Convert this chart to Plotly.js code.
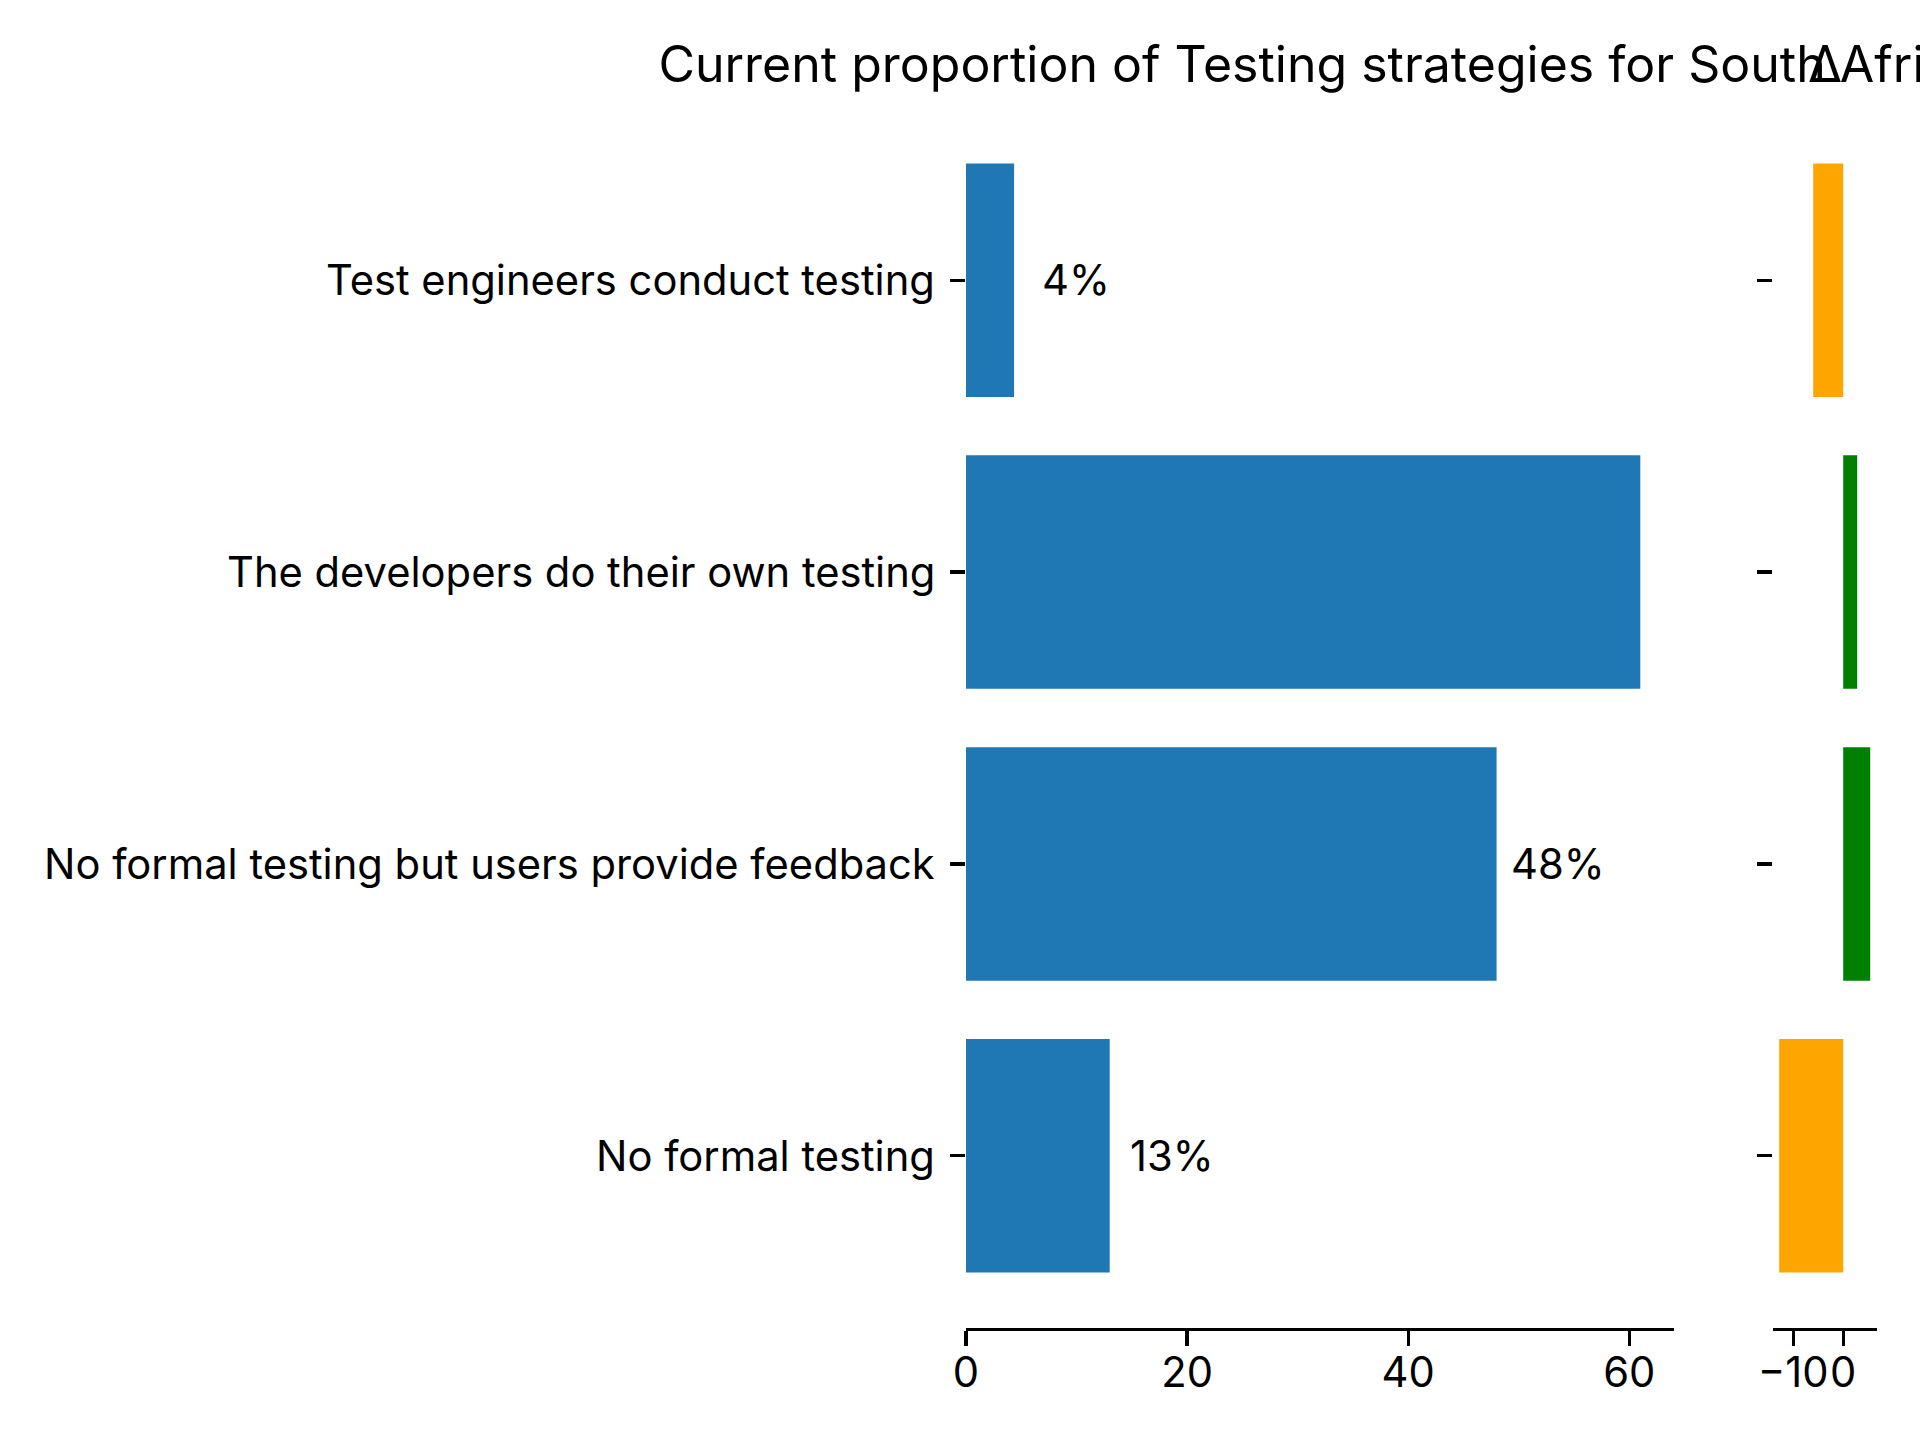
<!DOCTYPE html>
<html>
<head>
<meta charset="utf-8">
<script src="https://cdn.plot.ly/plotly-3.0.1.min.js"></script>
<style>html,body{margin:0;padding:0;background:#fff;} #chart{width:1920px;height:1440px;}</style>
</head>
<body>
<div id="chart"></div>
<script>
// Data (top to bottom as drawn)
const categories = [
  "Test engineers conduct testing",
  "The developers do their own testing",
  "No formal testing but users provide feedback",
  "No formal testing"
];
const currentShare = [4.35, 61, 48, 13];      // current proportion (%)
const deltaShare = [-6, 2.8, 5.4, -12.8];      // change (percentage points)
const xTickVals = [0, 20, 40, 60];
const x2TickVals = [-10, 0];
const x2TickText = ["\u221210", "0"];
const titleText = "Current proportion of Testing strategies for South Africa";
const deltaTitle = "\u0394";

const FONT = "Inter, 'DejaVu Sans', sans-serif";
const FS = 41.7;
const W = 1920, H = 1440;
const px = v => v / W;
const py = v => 1 - v / H;

const deltaColors = deltaShare.map(v => v < 0 ? "orange" : "green");

const traces = [
  {
    type: "bar", orientation: "h",
    y: categories, x: currentShare,
    marker: {color: "#1f77b4", line: {width: 0}},
    width: 0.8, xaxis: "x", yaxis: "y",
    hoverinfo: "x+y", showlegend: false
  },
  {
    type: "bar", orientation: "h",
    y: categories, x: deltaShare,
    marker: {color: deltaColors, line: {width: 0}},
    width: 0.8, xaxis: "x2", yaxis: "y2",
    hoverinfo: "x+y", showlegend: false
  }
];

const labelOffset = 5.6;
const annotations = categories.map((c, i) => ({
  x: currentShare[i] + labelOffset, y: c, xref: "x", yref: "y",
  text: Math.round(currentShare[i]) + "%",
  showarrow: false, xanchor: "center", yanchor: "middle",
  font: {family: FONT, size: FS, color: "#000"}
}));
// category (tick) labels of the left axis, right-aligned next to the tick marks
categories.forEach(c => annotations.push({
  x: px(937), y: c, xref: "paper", yref: "y",
  text: c, showarrow: false, xanchor: "right", yanchor: "middle",
  font: {family: FONT, size: FS, color: "#000"}
}));
annotations.push({
  x: px(1824.7), y: py(64), xref: "paper", yref: "paper",
  text: deltaTitle, showarrow: false, xanchor: "center", yanchor: "middle",
  font: {family: FONT, size: 50, color: "#000"}
});

const yDomain = [py(1328), py(108)];
const n = categories.length;
const yRange = [n - 1 + 0.59, -0.59];

const commonX = {
  showgrid: false, zeroline: false, showline: true, linecolor: "#000", linewidth: 3.3,
  ticks: "outside", ticklen: 14.6, tickwidth: 3.3, tickcolor: "#000", tickangle: 0,
  ticklabelstandoff: -9,
  tickfont: {family: FONT, size: FS, color: "#000"}, fixedrange: true
};
const commonY = {
  type: "category", showgrid: false, zeroline: false, showline: false,
  ticks: "outside", ticklen: 14.6, tickwidth: 3.3, tickcolor: "#000",
  tickfont: {family: FONT, size: FS, color: "#000"},
  categoryorder: "array", categoryarray: categories,
  range: yRange, domain: yDomain, fixedrange: true, showticklabels: false
};

const layout = {
  width: W, height: H,
  margin: {l: 0, r: 0, t: 0, b: 0},
  paper_bgcolor: "#fff", plot_bgcolor: "#fff",
  font: {family: FONT, color: "#000"},
  title: {
    text: titleText, x: px(1320), xanchor: "center", xref: "paper",
    y: py(64), yanchor: "middle", yref: "paper",
    font: {family: FONT, size: 50, color: "#000"}
  },
  xaxis: Object.assign({}, commonX, {
    domain: [px(966), px(1674)], range: [0, 64.05],
    tickmode: "array", tickvals: xTickVals, anchor: "y"
  }),
  yaxis: Object.assign({}, commonY, {anchor: "x"}),
  xaxis2: Object.assign({}, commonX, {
    domain: [px(1772.7), px(1876.7)], range: [-14.1, 6.7],
    tickmode: "array", tickvals: x2TickVals, ticktext: x2TickText, anchor: "y2"
  }),
  yaxis2: Object.assign({}, commonY, {anchor: "x2"}),
  bargap: 0.2,
  annotations: annotations
};

Plotly.newPlot("chart", traces, layout, {displayModeBar: false, staticPlot: true});
</script>
</body>
</html>
